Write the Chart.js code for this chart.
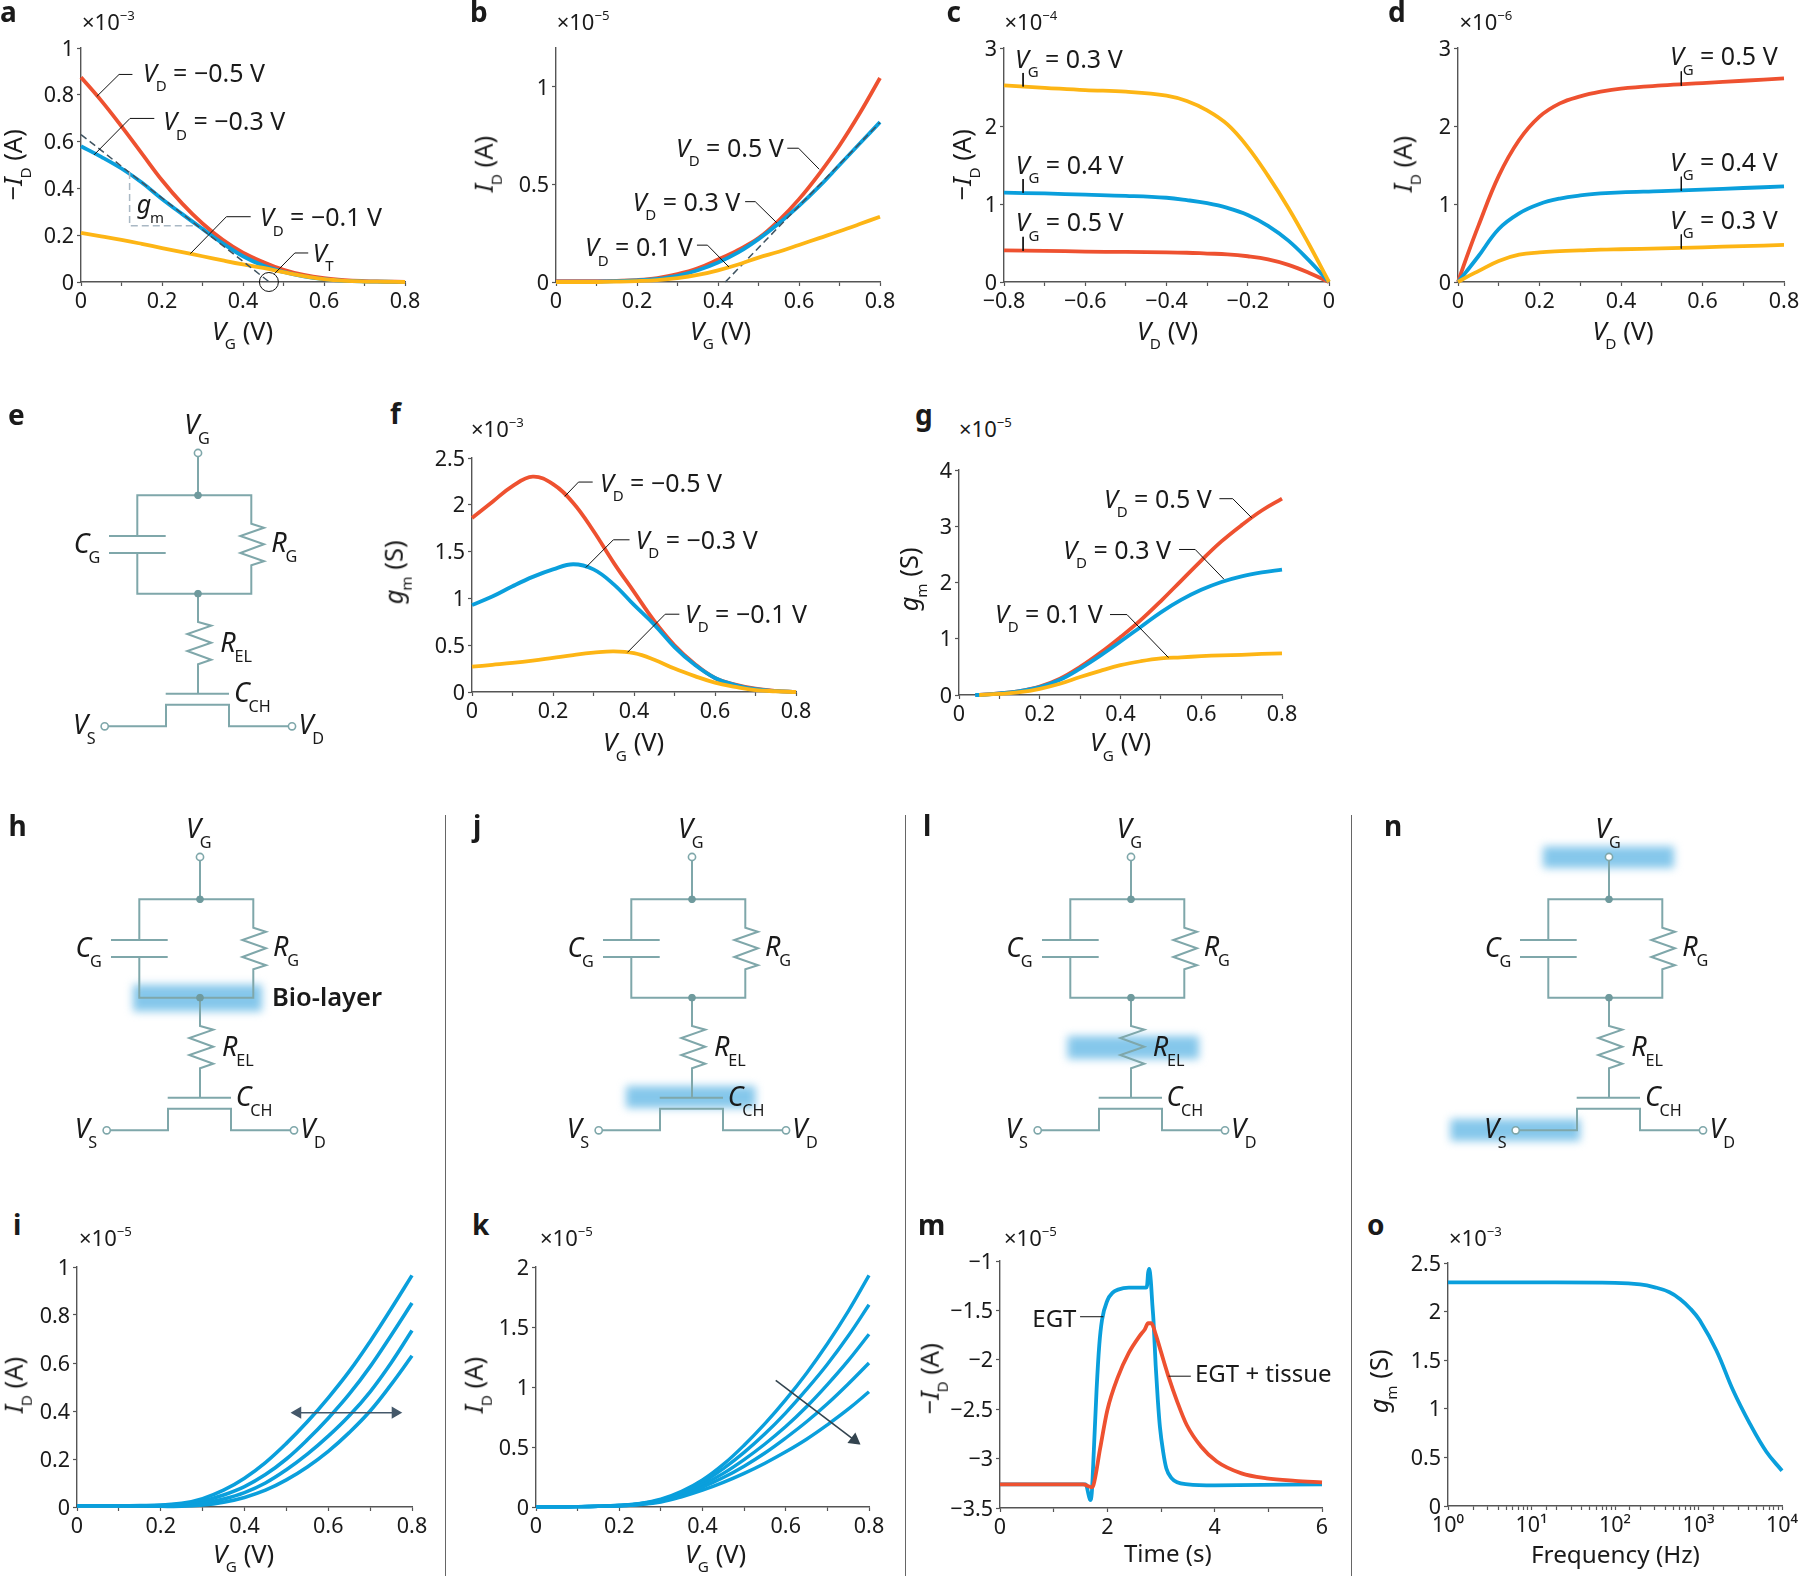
<!DOCTYPE html>
<html lang="en">
<head>
<meta charset="UTF-8">
<title>Electrochemical transistor characteristics</title>
<script src="https://cdn.jsdelivr.net/npm/chart.js"></script>
<style>
  html, body { margin: 0; background: #fff; }
  #page { position: relative; width: 1800px; height: 1576px; overflow: hidden; background: #fff; }
  canvas { position: absolute; }
  .txt { position: absolute; white-space: pre; color: #1a1a1a; font-family: "Noto Sans", sans-serif; line-height: 1.362; }
  .txt sub { font-size: .6em; vertical-align: -.62em; line-height: 0; font-style: normal; margin-left: -.08em; }
  .txt sup { font-size: .6em; vertical-align: .78em; line-height: 0; }
  .rule { position: absolute; width: 1.3px; top: 815px; height: 761px; background: #666; }
</style>
</head>
<body>
<div id="page"></div>
<script>
// ---- data ----
const vgSteps = [0, .05, .1, .15, .2, .25, .3, .35, .4, .45, .5, .55, .6, .65, .7, .75, .8];

// a: -ID vs VG (x1e-3)
const aRed = [.875, .775, .665, .55, .435, .335, .25, .18, .125, .085, .052, .03, .016, .008, .004, .002, 0];
const aBlue = [.58, .535, .485, .425, .355, .29, .227, .165, .11, .07, .043, .024, .012, .005, .002, .001, 0];
const aYellow = [.21, .195, .18, .163, .145, .128, .11, .092, .075, .06, .042, .025, .012, .005, .002, .001, 0];
const aTangentX = [0, .465], aTangentY = [.63, 0];
const aTriangleX = [.12, .12, .285], aTriangleY = [.47, .24, .24];
const aCircleX = [.464], aCircleY = [0];

// b: ID vs VG (x1e-5)
const bRed = [.004, .004, .004, .006, .01, .02, .04, .07, .115, .165, .225, .315, .425, .555, .7, .865, 1.046];
const bBlue = [.002, .002, .002, .004, .008, .016, .032, .06, .1, .152, .22, .3, .39, .49, .6, .71, .82];
const bYellow = [0, 0, 0, .002, .005, .01, .02, .036, .06, .09, .125, .155, .19, .225, .26, .297, .335];
const bTangentX = [.418, .8], bTangentY = [0, .818];

// c: -ID vs VD (x1e-4)
const cVd = [-.8, -.7, -.6, -.5, -.4, -.35, -.3, -.25, -.2, -.15, -.1, -.05, 0];
const cYellow = [2.52, 2.49, 2.46, 2.44, 2.39, 2.32, 2.2, 2.02, 1.73, 1.36, .95, .49, 0];
const cBlue = [1.145, 1.135, 1.12, 1.105, 1.08, 1.05, 1.01, .95, .86, .72, .53, .28, 0];
const cRed = [.405, .4, .39, .385, .38, .375, .365, .355, .33, .29, .22, .12, 0];

// d: ID vs VD (x1e-6)
const dVd = [0, .02, .05, .1, .15, .2, .25, .3, .35, .4, .5, .6, .7, .8];
const dRed = [0, .3, .72, 1.36, 1.82, 2.12, 2.29, 2.38, 2.44, 2.48, 2.52, 2.55, 2.58, 2.61];
const dBlue = [0, .13, .33, .68, .88, 1.0, 1.07, 1.11, 1.135, 1.15, 1.165, 1.185, 1.205, 1.225];
const dYellow = [0, .06, .14, .27, .35, .38, .395, .405, .415, .42, .43, .445, .46, .475];

// f: gm vs VG (x1e-3)
const fRed = [1.86, 2.03, 2.2, 2.3, 2.22, 2.02, 1.72, 1.38, 1.07, .76, .5, .3, .15, .08, .035, .012, 0];
const fBlue = [.93, 1.02, 1.13, 1.23, 1.31, 1.365, 1.31, 1.15, .93, .72, .48, .29, .15, .075, .03, .01, 0];
const fYellow = [.27, .29, .31, .335, .365, .395, .42, .435, .415, .345, .25, .17, .1, .055, .02, .008, 0];

// g: gm vs VG (x1e-5)
const gVg = [.04, .05, .1, .15, .2, .25, .3, .35, .4, .45, .5, .55, .6, .65, .7, .75, .8];
const gRed = [null, 0, .03, .07, .15, .29, .5, .75, 1.03, 1.33, 1.67, 2.03, 2.39, 2.73, 3.02, 3.28, 3.49];
const gBlue = [0, 0, .03, .07, .14, .27, .47, .7, .95, 1.21, 1.47, 1.69, 1.87, 2.01, 2.11, 2.18, 2.23];
const gYellow = [null, 0, .02, .05, .11, .2, .32, .43, .53, .6, .65, .67, .69, .705, .715, .73, .74];

// i: ID vs VG, four curves (x1e-5)
const iCurve1 = [.005, .005, .005, .006, .008, .015, .035, .07, .12, .185, .265, .355, .455, .565, .69, .825, .965];
const iCurve2 = [.005, .005, .005, .005, .006, .012, .025, .05, .085, .135, .2, .28, .37, .47, .585, .715, .85];
const iCurve3 = [.005, .005, .005, .005, .005, .008, .015, .033, .06, .1, .155, .22, .295, .38, .48, .6, .735];
const iCurve4 = [.005, .005, .005, .004, .003, .003, .008, .02, .04, .07, .113, .167, .232, .31, .4, .51, .63];
const iArrowX = [.527, .76], iArrowY = [.393, .393];

// k: ID vs VG, five curves (x1e-5)
const kCurve1 = [.002, .002, .003, .006, .014, .03, .065, .13, .225, .355, .515, .695, .895, 1.115, 1.36, 1.63, 1.93];
const kCurve2 = [.002, .002, .003, .006, .013, .028, .06, .12, .205, .32, .455, .61, .785, .98, 1.19, 1.425, 1.685];
const kCurve3 = [.002, .002, .003, .006, .012, .025, .055, .11, .185, .28, .395, .525, .67, .835, 1.02, 1.22, 1.44];
const kCurve4 = [.002, .002, .003, .005, .01, .023, .05, .1, .165, .245, .34, .45, .575, .71, .86, 1.025, 1.2];
const kCurve5 = [.002, .002, .003, .005, .009, .02, .042, .085, .14, .205, .28, .365, .46, .565, .685, .815, .96];
const kArrowX = [.576, .765], kArrowY = [1.056, .558];

// m: -ID vs time (x1e-5)
const mEgtTime = [0, 1.6, 1.64, 1.68, 1.71, 1.75, 1.8, 1.85, 1.9, 2.0, 2.1, 2.2, 2.4, 2.72, 2.74, 2.76, 2.78, 2.81, 2.84, 2.86, 2.9, 2.94, 2.98, 3.04, 3.1, 3.2, 3.3, 3.5, 4, 6];
const mEgtValue = [-3.26, -3.26, -3.34, -3.42, -3.35, -2.9, -2.3, -1.85, -1.6, -1.4, -1.32, -1.29, -1.27, -1.27, -1.25, -1.12, -1.08, -1.2, -1.45, -1.6, -2.05, -2.4, -2.68, -2.93, -3.1, -3.2, -3.24, -3.26, -3.27, -3.26];
const mTissueTime = [0, 1.55, 1.65, 1.7, 1.74, 1.865, 2, 2.2, 2.4, 2.6, 2.7, 2.76, 2.82, 2.9, 3, 3.14, 3.3, 3.48, 3.75, 4.04, 4.5, 4.97, 5.5, 6];
const mTissueValue = [-3.26, -3.26, -3.28, -3.29, -3.27, -2.9, -2.51, -2.17, -1.93, -1.76, -1.69, -1.63, -1.63, -1.74, -1.92, -2.17, -2.42, -2.66, -2.88, -3.03, -3.15, -3.2, -3.225, -3.24];

// o: gm vs frequency (x1e-3)
const oFreq = [1, 10, 100, 200, 300, 450, 600, 800, 1035, 1637, 2594, 4102, 6501, 10000];
const oGm = [2.3, 2.3, 2.295, 2.28, 2.25, 2.2, 2.13, 2.03, 1.91, 1.6, 1.19, .85, .558, .363];
const oPowerLabels = { 1: '10⁰', 10: '10¹', 100: '10²', 1000: '10³', 10000: '10⁴' };

// circuit drawn in its own units, origin at the VG terminal
const circuitWires = [
  [[0, 0], [0, 42.3]],
  [[-60.7, 83], [-60.7, 42.3], [53.3, 42.3], [53.3, 70.7], [66, 74.7], [42.3, 83], [66, 91.3], [42.3, 100], [66, 108.3], [53.3, 112.3], [53.3, 140.7], [-60.7, 140.7], [-60.7, 100]],
  [[-89, 83], [-32.3, 83]],
  [[-89, 100], [-32.3, 100]],
  [[0, 140.7], [0, 169], [13.3, 172.7], [-10.7, 181], [13.3, 189.7], [-10.7, 198], [13.3, 206.7], [0, 211.3], [0, 240.7]],
  [[-32.3, 240.7], [31, 240.7]],
  [[-93.3, 273.3], [-32, 273.3], [-32, 251.7], [31, 251.7], [31, 273.3], [94, 273.3]]
];
const circuitTerminals = [[0, 0], [-93.3, 273.3], [94, 273.3]];
const circuitJunctions = [[0, 42.3], [0, 140.7]];

const RED = '#ee5130', BLUE = '#0a9fdc', YELLOW = '#fdb515', WIRE = '#7fa7aa', AXIS = '#555', INK = '#1a1a1a';
const FONT = '"Noto Sans", sans-serif';
const TICK = 21.5;
const page = document.getElementById('page');

function label(x, y, html, size, opts = {}) {
  const el = document.createElement('span');
  el.className = 'txt';
  el.innerHTML = html;
  const base = 1.069 * size;
  el.style.cssText = `left:${x}px;top:${y - base}px;font-size:${size}px;font-weight:${opts.weight || 400};`;
  if (opts.rotate) {
    el.style.transformOrigin = `0 ${base}px`;
    el.style.transform = 'rotate(-90deg)';
  }
  page.appendChild(el);
}
const sym = (a, b) => `<i>${a}</i><sub>${b}</sub>`;
const eq = (a, b, v) => `${sym(a, b)} = ${v} V`;
const num = v => String(+v.toFixed(2)).replace('-', '−');

const zip = (xs, ys) => xs.map((x, i) => ({ x, y: ys[i] }));
const curve = (xs, ys, color, width = 3.8) => ({ data: zip(xs, ys), borderColor: color, borderWidth: width, pointRadius: 0, tension: .4, clip: false });
const sharp = (xs, ys, color) => ({ ...curve(xs, ys, color), tension: 0, cubicInterpolationMode: 'monotone' });
const thin = (xs, ys) => ({ data: zip(xs, ys), borderColor: '#111', borderWidth: 1, pointRadius: 0, tension: 0, clip: false });
const dash = (xs, ys, color) => ({ data: zip(xs, ys), borderColor: color, borderWidth: 1.5, borderDash: [7, 4], pointRadius: 0, tension: 0, clip: false });

function addCanvas(left, top, w, h) {
  const c = document.createElement('canvas');
  c.width = w; c.height = h;
  c.style.left = left + 'px'; c.style.top = top + 'px';
  c.style.width = w + 'px'; c.style.height = h + 'px';
  page.appendChild(c);
  return c;
}

const M = { left: 70, right: 34, top: 20, bottom: 50 };

function plot(box, xAxis, yAxis, layers) {
  const [l, t, r, b] = box.map(Math.round);
  const canvas = addCanvas(l - M.left, t - M.top, r - l + M.left + M.right, b - t + M.top + M.bottom);
  const axisBase = {
    border: { display: true, color: AXIS, width: 1.4 },
    grid: { drawOnChartArea: false, drawTicks: true, tickLength: 4, color: AXIS, tickWidth: 1.2 }
  };
  const tickFont = { family: FONT, size: TICK };
  const x = xAxis.log ? {
    ...axisBase, type: 'logarithmic', min: xAxis.min, max: xAxis.max,
    ticks: { autoSkip: false, maxRotation: 0, color: INK, font: tickFont, padding: 3, callback: v => oPowerLabels[v] || '' }
  } : {
    ...axisBase, type: 'linear', min: xAxis.min, max: xAxis.max,
    ticks: { stepSize: xAxis.step, autoSkip: false, maxRotation: 0, color: INK, font: tickFont, padding: 3,
      callback: v => Math.round(v / xAxis.step) % xAxis.every === 0 ? num(v) : '' }
  };
  x.afterFit = s => { s.height = M.bottom; };
  const y = {
    ...axisBase, type: 'linear', min: yAxis.min, max: yAxis.max,
    afterBuildTicks: s => { s.ticks = s.ticks.filter(k => yAxis.keep === undefined || k.value <= yAxis.keep); },
    afterFit: s => { s.width = M.left; },
    ticks: { stepSize: yAxis.step, autoSkip: false, color: INK, font: tickFont, padding: 3, labelOffset: 1.5, callback: num }
  };
  // Chart.js paints the first dataset on top, layers are given bottom first
  return new Chart(canvas, {
    type: 'line',
    data: { datasets: layers.slice().reverse() },
    options: {
      responsive: false, animation: false,
      layout: { autoPadding: false, padding: { left: 0, right: M.right, top: M.top, bottom: 0 } },
      plugins: { legend: { display: false }, tooltip: { enabled: false } },
      scales: { x, y }
    }
  });
}

const glow = {
  id: 'glow',
  beforeDatasetsDraw(chart, args, opts) {
    const { ctx, scales } = chart;
    ctx.save();
    ctx.filter = 'blur(4px)';
    ctx.fillStyle = '#85c7eb';
    for (const [x0, y0, x1, y1] of opts.bands || []) {
      const px = scales.x.getPixelForValue(x0), py = scales.y.getPixelForValue(y0);
      ctx.fillRect(px, py, scales.x.getPixelForValue(x1) - px, scales.y.getPixelForValue(y1) - py);
    }
    ctx.restore();
  }
};

function circuit(cx, cy, bands) {
  const canvas = addCanvas(Math.round(cx) - 170, Math.round(cy) - 30, 340, 330);
  const pts = list => list.map(([x, y]) => ({ x, y }));
  const datasets = [
    { data: pts(circuitTerminals), showLine: false, pointRadius: 3.6, pointBackgroundColor: '#fff', pointBorderColor: WIRE, pointBorderWidth: 1.6 },
    { data: pts(circuitJunctions), showLine: false, pointRadius: 3.4, pointBackgroundColor: '#6f9a9d', pointBorderColor: '#6f9a9d' },
    ...circuitWires.map(w => ({ data: pts(w), borderColor: WIRE, borderWidth: 2, pointRadius: 0, tension: 0, borderJoinStyle: 'miter' }))
  ];
  new Chart(canvas, {
    type: 'line',
    data: { datasets },
    plugins: [glow],
    options: {
      responsive: false, animation: false,
      layout: { autoPadding: false },
      plugins: { legend: { display: false }, tooltip: { enabled: false }, glow: { bands } },
      scales: {
        x: { type: 'linear', display: false, min: -170, max: 170 },
        y: { type: 'linear', display: false, min: -30, max: 300, reverse: true }
      }
    }
  });
  const S = 27;
  label(cx - 14, cy - 18.3, sym('V', 'G'), S);
  label(cx - 124.5, cy + 100.7, sym('C', 'G'), S);
  label(cx + 73, cy + 99.7, sym('R', 'G'), S);
  label(cx + 22, cy + 199.7, sym('R', 'EL'), S);
  label(cx + 35.7, cy + 249.7, sym('C', 'CH'), S);
  label(cx - 125.3, cy + 281.7, sym('V', 'S'), S);
  label(cx + 100.3, cy + 281.7, sym('V', 'D'), S);
}

// ---- panels ----
plot([81, 48.3, 405.3, 281.7], { min: 0, max: .8, step: .1, every: 2 }, { min: 0, max: 1, step: .2 }, [
  curve(vgSteps, aRed, RED), curve(vgSteps, aBlue, BLUE), curve(vgSteps, aYellow, YELLOW),
  dash(aTangentX, aTangentY, '#3f5360'), dash(aTriangleX, aTriangleY, '#a9b8c4'),
  { data: zip(aCircleX, aCircleY), showLine: false, pointRadius: 9.5, pointBackgroundColor: 'transparent', pointBorderColor: '#111', pointBorderWidth: 1, clip: false },
  thin([.127, .094, .039], [.887, .887, .793]), thin([.181, .121, .032], [.699, .699, .543]),
  thin([.419, .359, .27], [.279, .279, .121]), thin([.561, .528, .478], [.124, .124, .036])
]);
plot([555.7, 48.3, 880, 281.7], { min: 0, max: .8, step: .1, every: 2 }, { min: 0, max: 1.2, step: .5, keep: 1 }, [
  curve(vgSteps, bRed, RED), curve(vgSteps, bBlue, BLUE), dash(bTangentX, bTangentY, '#3f5360'), curve(vgSteps, bYellow, YELLOW),
  thin([.571, .599, .65], [.686, .686, .578]), thin([.467, .492, .545], [.412, .412, .304]), thin([.348, .374, .427], [.189, .189, .077])
]);
plot([1004, 48.3, 1329.2, 281.7], { min: -.8, max: 0, step: .1, every: 2 }, { min: 0, max: 3, step: 1 }, [
  curve(cVd, cRed, RED), curve(cVd, cBlue, BLUE), curve(cVd, cYellow, YELLOW),
  thin([-.753, -.753], [2.68, 2.507]), thin([-.753, -.753], [1.32, 1.144]), thin([-.753, -.753], [.579, .399])
]);
plot([1458.3, 48.3, 1783.6, 281.7], { min: 0, max: .8, step: .1, every: 2 }, { min: 0, max: 3, step: 1 }, [
  curve(dVd, dRed, RED), curve(dVd, dBlue, BLUE), curve(dVd, dYellow, YELLOW),
  thin([.548, .548], [2.7, 2.516]), thin([.548, .548], [1.35, 1.17]), thin([.548, .548], [.609, .429])
]);
plot([471.7, 458.3, 796, 692], { min: 0, max: .8, step: .1, every: 2 }, { min: 0, max: 2.5, step: .5 }, [
  curve(vgSteps, fRed, RED), curve(vgSteps, fBlue, BLUE), curve(vgSteps, fYellow, YELLOW),
  thin([.298, .263, .229], [2.243, 2.243, 2.09]), thin([.389, .349, .281], [1.626, 1.626, 1.33]), thin([.512, .477, .384], [.831, .831, .424])
]);
plot([958.7, 470, 1282, 694.7], { min: 0, max: .8, step: .1, every: 2 }, { min: 0, max: 4, step: 1 }, [
  curve(gVg, gRed, RED), curve(gVg, gBlue, BLUE), curve(gVg, gYellow, YELLOW),
  thin([.645, .678, .725], [3.49, 3.49, 3.15]), thin([.545, .585, .656], [2.587, 2.587, 2.06]), thin([.374, .416, .519], [1.43, 1.43, .665])
]);
plot([77.3, 1266.7, 411.7, 1506.7], { min: 0, max: .8, step: .1, every: 2 }, { min: 0, max: 1, step: .2 }, [
  curve(vgSteps, iCurve1, BLUE, 3.6), curve(vgSteps, iCurve2, BLUE, 3.6), curve(vgSteps, iCurve3, BLUE, 3.6), curve(vgSteps, iCurve4, BLUE, 3.6),
  { data: zip(iArrowX, iArrowY), borderColor: '#44586a', borderWidth: 1.6, tension: 0, clip: false, pointStyle: 'triangle', pointRadius: 5.5, pointRotation: [270, 90], pointBackgroundColor: '#44586a', pointBorderColor: '#44586a' }
]);
plot([535.7, 1266.7, 869.3, 1506.7], { min: 0, max: .8, step: .1, every: 2 }, { min: 0, max: 2, step: .5 }, [
  curve(vgSteps, kCurve1, BLUE, 3.4), curve(vgSteps, kCurve2, BLUE, 3.4), curve(vgSteps, kCurve3, BLUE, 3.4), curve(vgSteps, kCurve4, BLUE, 3.4), curve(vgSteps, kCurve5, BLUE, 3.4),
  { data: zip(kArrowX, kArrowY), borderColor: '#33444f', borderWidth: 1.6, tension: 0, clip: false, pointStyle: 'triangle', pointRadius: [0, 6], pointRotation: [0, 127], pointBackgroundColor: '#33444f', pointBorderColor: '#33444f' }
]);
plot([1000, 1261, 1321.7, 1507.7], { min: 0, max: 6, step: 1, every: 2 }, { min: -3.5, max: -1, step: .5 }, [
  sharp(mEgtTime, mEgtValue, BLUE), sharp(mTissueTime, mTissueValue, RED),
  thin([1.492, 1.927], [-1.564, -1.564]), thin([3.14, 3.556], [-2.166, -2.166])
]);
plot([1448, 1262.7, 1782.3, 1506], { log: true, min: 1, max: 10000 }, { min: 0, max: 2.5, step: .5 }, [
  curve(oFreq, oGm, BLUE)
]);

circuit(198.3, 452.7, []);
circuit(200, 857.3, [[-67, 127.7, 62, 154.4]]);
circuit(692, 857.3, [[-66, 229, 63.5, 251]]);
circuit(1130.7, 857.3, [[-63.5, 179, 68, 202]]);
circuit(1609.3, 857.3, [[-66, -10.6, 65, 11], [-158.6, 262, -28.8, 284]]);

// ---- panel letters ----
[['a', 0, 22], ['b', 470, 22], ['c', 946.5, 22], ['d', 1388, 22], ['e', 8, 425], ['f', 390, 424], ['g', 915, 425],
 ['h', 8.6, 836], ['j', 473, 836], ['l', 923, 836], ['n', 1384, 836], ['i', 13, 1235], ['k', 472, 1235], ['m', 918, 1235], ['o', 1367, 1235]]
  .forEach(([t, x, y]) => label(x, y, t, 28, { weight: 700 }));

// ---- scale factors ----
[['−3', 82, 30.7], ['−5', 556.7, 30.7], ['−4', 1004.5, 31], ['−6', 1459.5, 31], ['−3', 471, 437.3], ['−5', 959, 437.3],
 ['−5', 79, 1246.7], ['−5', 540, 1246.7], ['−5', 1004, 1246.7], ['−3', 1449, 1246.7]]
  .forEach(([e, x, y]) => label(x, y, `×10<sup>${e}</sup>`, 22));

// ---- axis titles ----
const TITLE = 25.5;
[[sym('V', 'G') + ' (V)', 212, 340], [sym('V', 'G') + ' (V)', 690, 340], [sym('V', 'D') + ' (V)', 1137, 340], [sym('V', 'D') + ' (V)', 1592.5, 340],
 [sym('V', 'G') + ' (V)', 603, 751.7], [sym('V', 'G') + ' (V)', 1090, 751.7], [sym('V', 'G') + ' (V)', 213, 1563], [sym('V', 'G') + ' (V)', 685, 1563]]
  .forEach(([t, x, y]) => label(x, y, t, TITLE));
label(1124, 1563, 'Time (s)', 24);
label(1531, 1563, 'Frequency (Hz)', 24.3);
const minusId = '−' + sym('I', 'D') + ' (A)', plusId = sym('I', 'D') + ' (A)', gmS = sym('g', 'm') + ' (S)';
[[minusId, 22, 200], [plusId, 493, 192], [minusId, 971, 200], [plusId, 1411.5, 192], [gmS, 403, 604], [gmS, 918, 611.7],
 [plusId, 23, 1413], [plusId, 483, 1413], [minusId, 939, 1414], [gmS, 1388, 1413]]
  .forEach(([t, x, y]) => label(x, y, t, TITLE, { rotate: true }));

// ---- annotations ----
const NOTE = 25;
[[eq('V', 'D', '−0.5'), 143, 81.7], [eq('V', 'D', '−0.3'), 163.3, 130], [eq('V', 'D', '−0.1'), 260, 226], [sym('V', 'T'), 312.7, 261.7], [sym('g', 'm'), 136.7, 213],
 [eq('V', 'D', '0.5'), 676, 156.7], [eq('V', 'D', '0.3'), 632.7, 210.7], [eq('V', 'D', '0.1'), 585, 256],
 [eq('V', 'G', '0.3'), 1015, 67.7], [eq('V', 'G', '0.4'), 1015.8, 173.3], [eq('V', 'G', '0.5'), 1015.8, 231],
 [eq('V', 'G', '0.5'), 1670, 65], [eq('V', 'G', '0.4'), 1670, 170.7], [eq('V', 'G', '0.3'), 1670, 228.3],
 [eq('V', 'D', '−0.5'), 600, 491.7], [eq('V', 'D', '−0.3'), 635.7, 548.3], [eq('V', 'D', '−0.1'), 685, 622.7],
 [eq('V', 'D', '0.5'), 1104, 507.3], [eq('V', 'D', '0.3'), 1063.3, 558.3], [eq('V', 'D', '0.1'), 995, 622.7]]
  .forEach(([t, x, y]) => label(x, y, t, NOTE));
label(1032.3, 1327.3, 'EGT', 24);
label(1195, 1382.7, 'EGT + tissue', 24);
label(272, 1006.7, 'Bio-layer', 25.5, { weight: 600 });

// ---- dividers between the bottom columns ----
[444.5, 905, 1351].forEach(x => {
  const d = document.createElement('div');
  d.className = 'rule';
  d.style.left = x + 'px';
  page.appendChild(d);
});
</script>
</body>
</html>
